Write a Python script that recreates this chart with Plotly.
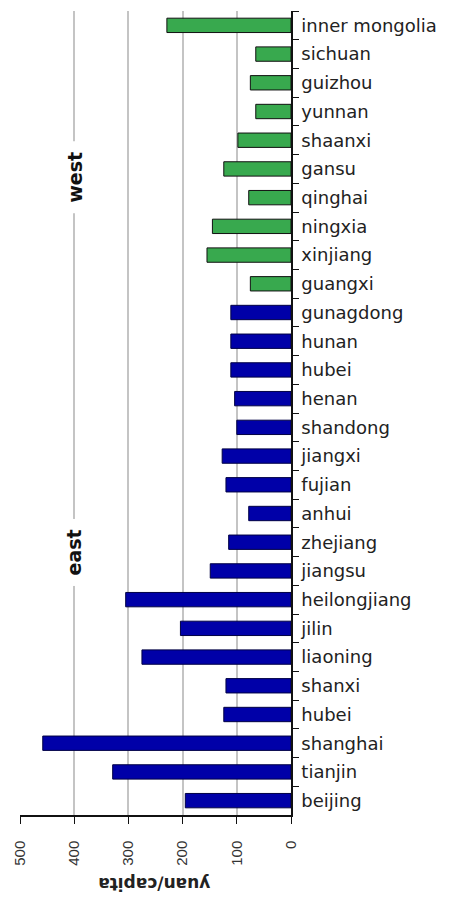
import plotly.graph_objects as go

# Provinces listed top to bottom; the second "hubei" carries a trailing space
# so the category axis keeps both entries.
west_regions = ["inner mongolia", "sichuan", "guizhou", "yunnan", "shaanxi",
                "gansu", "qinghai", "ningxia", "xinjiang", "guangxi"]
west_values = [229, 65, 75, 65, 98, 124, 78, 145, 155, 75]

east_regions = ["gunagdong", "hunan", "hubei", "henan", "shandong", "jiangxi",
                "fujian", "anhui", "zhejiang", "jiangsu", "heilongjiang", "jilin",
                "liaoning", "shanxi", "hubei ", "shanghai", "tianjin", "beijing"]
east_values = [111, 111, 111, 104, 100, 127, 120, 78, 115, 149, 305, 204,
               275, 120, 124, 458, 329, 195]

x_ticks = [0, 100, 200, 300, 400, 500]
axis_title = "yuan/capita"
group_labels = ["west", "east"]

category_order = west_regions + east_regions

fig = go.Figure()
fig.add_trace(go.Bar(
    y=west_regions, x=west_values, orientation="h",
    marker=dict(color="#38a94e", line=dict(color="#111111", width=1)),
    showlegend=False,
))
fig.add_trace(go.Bar(
    y=east_regions, x=east_values, orientation="h",
    marker=dict(color="#0000a8", line=dict(color="#000044", width=1)),
    showlegend=False,
))

fig.update_layout(
    width=453, height=897,
    margin=dict(l=16, r=162, t=11, b=82),
    paper_bgcolor="white", plot_bgcolor="white",
    bargap=0.5,
    font=dict(family="DejaVu Sans", color="#222222"),
    xaxis=dict(
        range=[500, 0], tickvals=x_ticks, ticktext=[str(v) for v in x_ticks],
        tickangle=-90, ticks="outside", ticklen=7, tickcolor="#111111",
        ticklabelstandoff=11,
        tickfont=dict(family="Liberation Sans", size=15, color="#333333"),
        showline=True, linecolor="#111111", linewidth=1.5,
        showgrid=True, gridcolor="#c4c4c4", gridwidth=1.5,
        zeroline=False, fixedrange=True,
    ),
    yaxis=dict(
        type="category", categoryorder="array", categoryarray=category_order,
        autorange="reversed", side="right", tickson="boundaries",
        ticks="outside", ticklen=6, tickcolor="#111111",
        ticklabelstandoff=5,
        tickfont=dict(family="DejaVu Sans", size=18, color="#222222"),
        showline=True, linecolor="#111111", linewidth=1.5,
        showgrid=False, zeroline=False, fixedrange=True,
    ),
    annotations=[
        dict(text=f"<b>{group_labels[0]}</b>", x=400, y=5.3, xref="x", yref="y",
             textangle=-90, showarrow=False, bgcolor="white", borderpad=10,
             font=dict(family="DejaVu Sans", size=19, color="#111111")),
        dict(text=f"<b>{group_labels[1]}</b>", x=400, y=18.35, xref="x", yref="y",
             textangle=-90, showarrow=False, bgcolor="white", borderpad=10,
             font=dict(family="DejaVu Sans", size=19, color="#111111")),
        dict(text=f"<b>{axis_title}</b>", x=0.495, y=-0.085, xref="paper", yref="paper",
             xanchor="center", yanchor="middle",
             textangle=180, showarrow=False,
             font=dict(family="DejaVu Sans", size=17, color="#222222")),
    ],
)

fig.write_html("out.html")
